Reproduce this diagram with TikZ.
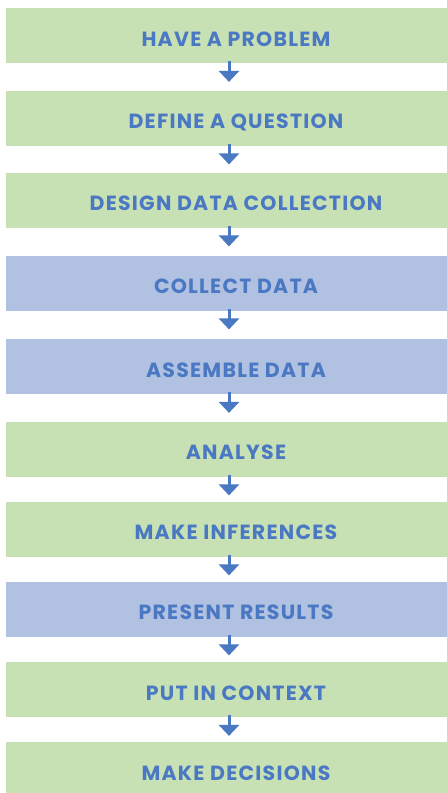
\documentclass[tikz,border=0pt]{standalone}
\usepackage{fontspec}
\setmainfont{Poppins}
\newfontfamily\lblfont{Poppins}[LetterSpace=6]
\usetikzlibrary{arrows.meta,calc}
\definecolor{boxgreen}{HTML}{C7E1B4}
\definecolor{boxblue}{HTML}{B0C1E2}
\definecolor{txtblue}{HTML}{4A78C2}
\begin{document}
\begin{tikzpicture}[x=1pt,y=-1pt,
  stage/.style={anchor=north west,minimum width=460pt,minimum height=55pt,inner sep=0pt,draw=none},
  greenstage/.style={stage,fill=boxgreen},
  bluestage/.style={stage,fill=boxblue},
  lbl/.style={anchor=base,text=txtblue,font=\lblfont\fontsize{20.5}{21}\selectfont\bfseries,inner sep=0pt},
  arr/.style={draw=txtblue,line width=3pt,-{Triangle[width=20pt,length=11pt]}}]
\useasboundingbox (0,0) rectangle (447,793);
\clip (0,0) rectangle (447,793);
\coordinate (ax) at (229,0);
\coordinate (tx) at (236,0);
\node[greenstage] (b1) at (6,8) {};
\node[greenstage] (b2) at (6,90.5) {};
\node[greenstage] (b3) at (6,172.5) {};
\node[bluestage] (b4) at (6,255.5) {};
\node[bluestage] (b5) at (6,339) {};
\node[greenstage] (b6) at (6,421.5) {};
\node[greenstage] (b7) at (6,501.5) {};
\node[bluestage] (b8) at (6,581.5) {};
\node[greenstage] (b9) at (6,662) {};
\node[greenstage] (b10) at (6,742) {};
\foreach \b/\t in {b1/HAVE A PROBLEM,b2/DEFINE A QUESTION,b3/DESIGN DATA COLLECTION,b4/COLLECT DATA,b5/ASSEMBLE DATA,b6/ANALYSE,b7/MAKE INFERENCES,b8/PRESENT RESULTS,b9/PUT IN CONTEXT,b10/MAKE DECISIONS}{
  \node[lbl] (t\b) at ($(\b.north -| tx)+(0,38)$) {\t};
}
\foreach \b in {b1,b2,b3,b4,b5,b6,b7,b8,b9}{
  \draw[arr] ($(\b.south -| ax)+(0,-2)$) -- ++(0,20.5);
}
\end{tikzpicture}
\end{document}
